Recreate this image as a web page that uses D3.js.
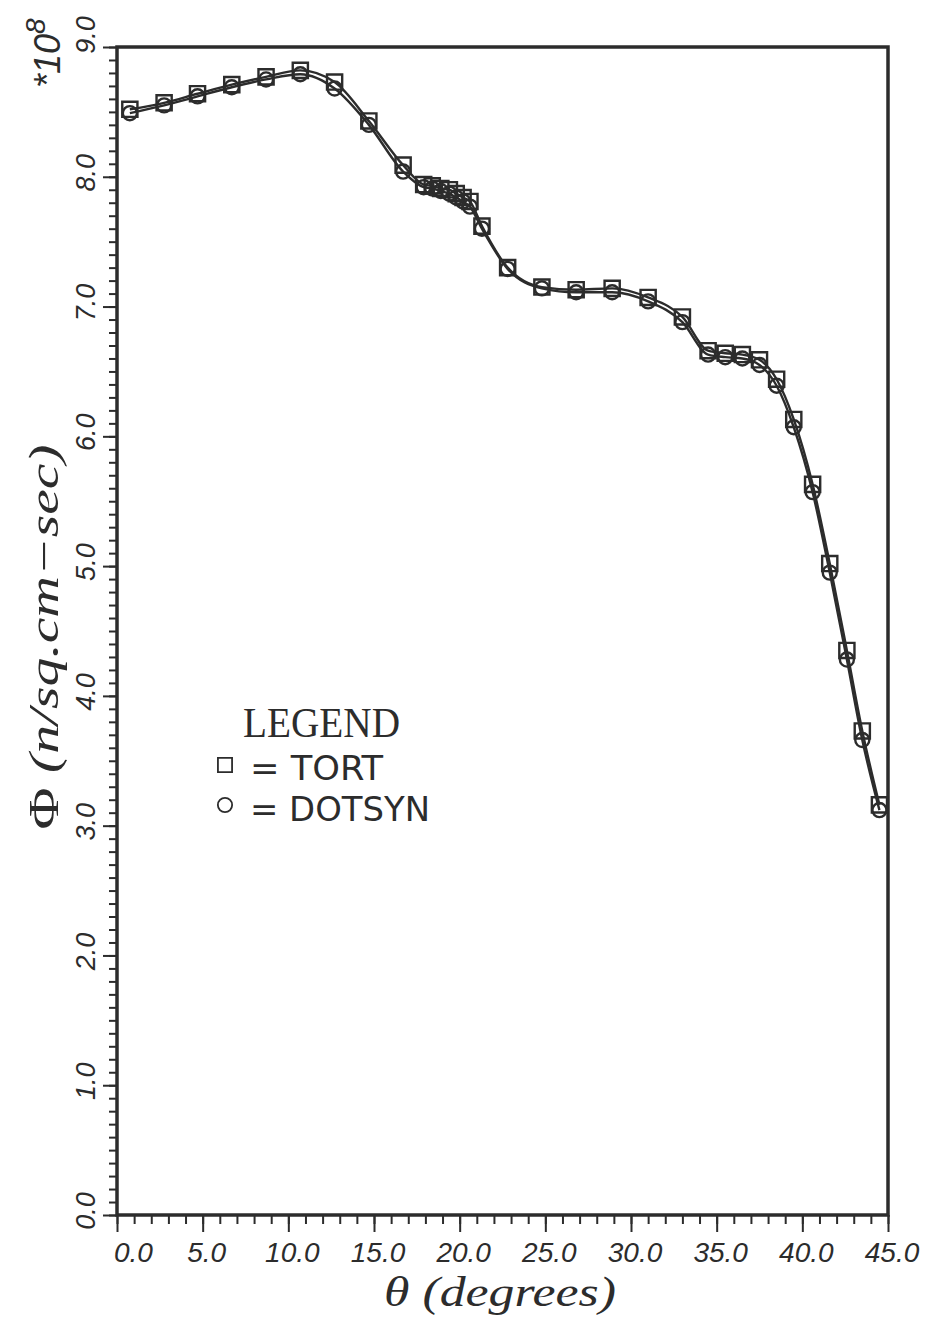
<!DOCTYPE html>
<html>
<head>
<meta charset="utf-8">
<script src="https://cdn.jsdelivr.net/npm/d3@7"></script>
<style>
  html, body { margin: 0; padding: 0; background: #ffffff; }
  svg { display: block; }
</style>
</head>
<body>
<svg id="chart" width="934" height="1322"></svg>
<script>
// Scattering angle (degrees)
const theta = [0.75, 2.75, 4.7, 6.7, 8.7, 10.7, 12.7, 14.7, 16.7, 17.9, 18.4, 18.9, 19.4,
  19.8, 20.2, 20.6, 21.3, 22.8, 24.8, 26.8, 28.9, 31.0, 33.0, 34.5, 35.5, 36.5, 37.5,
  38.5, 39.5, 40.6, 41.6, 42.6, 43.5, 44.5];

// Flux, units of 1e8 n/sq.cm-sec
const tort = [8.52, 8.57, 8.64, 8.71, 8.77, 8.82, 8.73, 8.43, 8.09, 7.94, 7.93, 7.91, 7.90,
  7.87, 7.84, 7.81, 7.62, 7.30, 7.15, 7.13, 7.14, 7.07, 6.92, 6.66, 6.64, 6.63, 6.59,
  6.44, 6.13, 5.63, 5.02, 4.35, 3.73, 3.16];
const dotsyn = [8.49, 8.55, 8.62, 8.69, 8.75, 8.79, 8.68, 8.40, 8.04, 7.92, 7.91, 7.89, 7.87,
  7.84, 7.81, 7.77, 7.60, 7.29, 7.14, 7.11, 7.11, 7.04, 6.88, 6.63, 6.61, 6.60, 6.55,
  6.39, 6.07, 5.57, 4.95, 4.28, 3.66, 3.12];

const xTickValues = [0, 5, 10, 15, 20, 25, 30, 35, 40, 45];
const yTickValues = [0, 1, 2, 3, 4, 5, 6, 7, 8, 9];
const xTickLabels = ["0.0", "5.0", "10.0", "15.0", "20.0", "25.0", "30.0", "35.0", "40.0", "45.0"];
const yTickLabels = ["0.0", "1.0", "2.0", "3.0", "4.0", "5.0", "6.0", "7.0", "8.0", "9.0"];

const ink = "#2c2c2c";
const svg = d3.select("#chart");

const x = d3.scaleLinear().domain([0, 45]).range([117, 888]);
const y = d3.scaleLinear().domain([0, 9]).range([1215, 47]);

// Minor ticks
svg.append("g")
  .attr("transform", `translate(0,${y(0)})`)
  .call(d3.axisBottom(x).tickValues(d3.range(0, 46, 1)).tickSize(9).tickFormat(""))
  .call(g => g.select(".domain").remove())
  .call(g => g.selectAll("line").attr("stroke", ink).attr("stroke-width", 2));
svg.append("g")
  .attr("transform", `translate(${x(0)},0)`)
  .call(d3.axisLeft(y).tickValues(d3.range(0, 91, 1).map(d => d / 10)).tickSize(8).tickFormat(""))
  .call(g => g.select(".domain").remove())
  .call(g => g.selectAll("line").attr("stroke", ink).attr("stroke-width", 2));

// Major ticks
svg.append("g")
  .attr("transform", `translate(0,${y(0)})`)
  .call(d3.axisBottom(x).tickValues(xTickValues).tickSize(17).tickFormat(""))
  .call(g => g.select(".domain").remove())
  .call(g => g.selectAll("line").attr("stroke", ink).attr("stroke-width", 2));
svg.append("g")
  .attr("transform", `translate(${x(0)},0)`)
  .call(d3.axisLeft(y).tickValues(yTickValues).tickSize(14).tickFormat(""))
  .call(g => g.select(".domain").remove())
  .call(g => g.selectAll("line").attr("stroke", ink).attr("stroke-width", 2));

// Frame
svg.append("rect")
  .attr("x", x(0)).attr("y", y(9))
  .attr("width", x(45) - x(0)).attr("height", y(0) - y(9))
  .attr("fill", "none").attr("stroke", ink).attr("stroke-width", 3.5);

// Tick labels
const tickFont = "'Liberation Sans', Arial, sans-serif";
svg.append("g").selectAll("text")
  .data(xTickValues)
  .join("text")
  .attr("x", (d, i) => i === 0 ? x(d) - 3 : x(d) + 4)
  .attr("y", 1262)
  .attr("text-anchor", (d, i) => i === 0 ? "start" : "middle")
  .attr("font-family", tickFont)
  .attr("font-style", "italic")
  .attr("font-size", 28)
  .attr("fill", ink)
  .text((d, i) => xTickLabels[i]);

svg.append("g").selectAll("text")
  .data(yTickValues)
  .join("text")
  .attr("transform", (d, i) => `translate(95,${y(d) - (i === 9 ? 12 : 4)}) rotate(-90)`)
  .attr("text-anchor", "middle")
  .attr("font-family", tickFont)
  .attr("font-style", "italic")
  .attr("font-size", 27)
  .attr("fill", ink)
  .text((d, i) => yTickLabels[i]);

// Scale factor label
const sf = svg.append("text")
  .attr("transform", "translate(60,88) rotate(-90)")
  .attr("font-family", tickFont)
  .attr("font-style", "italic")
  .attr("font-size", 36)
  .attr("fill", ink);
sf.append("tspan").text("*10");
sf.append("tspan").attr("dy", -15).attr("font-size", 28).text("8");

// Axis titles
const titleFont = "'Liberation Serif', 'Times New Roman', serif";
svg.append("text")
  .attr("x", 500).attr("y", 1306)
  .attr("text-anchor", "middle")
  .attr("font-family", titleFont)
  .attr("font-style", "italic")
  .attr("font-size", 42)
  .attr("fill", ink)
  .attr("textLength", 232).attr("lengthAdjust", "spacingAndGlyphs")
  .text("θ (degrees)");

const yt = svg.append("text")
  .attr("transform", "translate(58,637) rotate(-90)")
  .attr("text-anchor", "middle")
  .attr("font-family", titleFont)
  .attr("font-size", 42)
  .attr("fill", ink)
  .attr("textLength", 385).attr("lengthAdjust", "spacingAndGlyphs");
yt.append("tspan").text("Φ ");
yt.append("tspan").attr("font-style", "italic").text("(n/sq.cm−sec)");

// Curves
const line = d3.line().curve(d3.curveMonotoneX);
const series = [
  { name: "TORT", values: tort, symbol: d3.symbolSquare, size: 230 },
  { name: "DOTSYN", values: dotsyn, symbol: d3.symbolCircle, size: 155 }
];
series.forEach(s => {
  const pts = theta.map((t, i) => [x(t), y(s.values[i])]);
  svg.append("path")
    .attr("d", line(pts))
    .attr("fill", "none")
    .attr("stroke", ink)
    .attr("stroke-width", 2.4);
});
series.forEach(s => {
  const sym = d3.symbol().type(s.symbol).size(s.size);
  svg.append("g").selectAll("path")
    .data(theta.map((t, i) => [t, s.values[i]]))
    .join("path")
    .attr("transform", d => `translate(${x(d[0])},${y(d[1])})`)
    .attr("d", sym())
    .attr("fill", "none")
    .attr("stroke", ink)
    .attr("stroke-width", 2.4);
});

// Legend
const lg = svg.append("g");
lg.append("text")
  .attr("x", 243).attr("y", 737)
  .attr("font-family", "'Liberation Serif', 'Times New Roman', serif")
  .attr("font-size", 42)
  .attr("fill", ink)
  .attr("textLength", 157).attr("lengthAdjust", "spacingAndGlyphs")
  .text("LEGEND");
const legendRows = [
  { label: "= TORT", symbol: d3.symbolSquare, size: 200, cy: 765, base: 780, len: 133 },
  { label: "= DOTSYN", symbol: d3.symbolCircle, size: 160, cy: 805, base: 821, len: 180 }
];
legendRows.forEach(r => {
  lg.append("path")
    .attr("transform", `translate(225,${r.cy})`)
    .attr("d", d3.symbol().type(r.symbol).size(r.size)())
    .attr("fill", "none").attr("stroke", ink).attr("stroke-width", 1.8);
  lg.append("text")
    .attr("x", 250).attr("y", r.base)
    .attr("font-family", "'Liberation Sans Narrow', 'DejaVu Sans Condensed', 'Liberation Sans', sans-serif")
    .attr("font-size", 34)
    .attr("fill", ink)
    .attr("textLength", r.len).attr("lengthAdjust", "spacingAndGlyphs")
    .text(r.label);
});
</script>
</body>
</html>
